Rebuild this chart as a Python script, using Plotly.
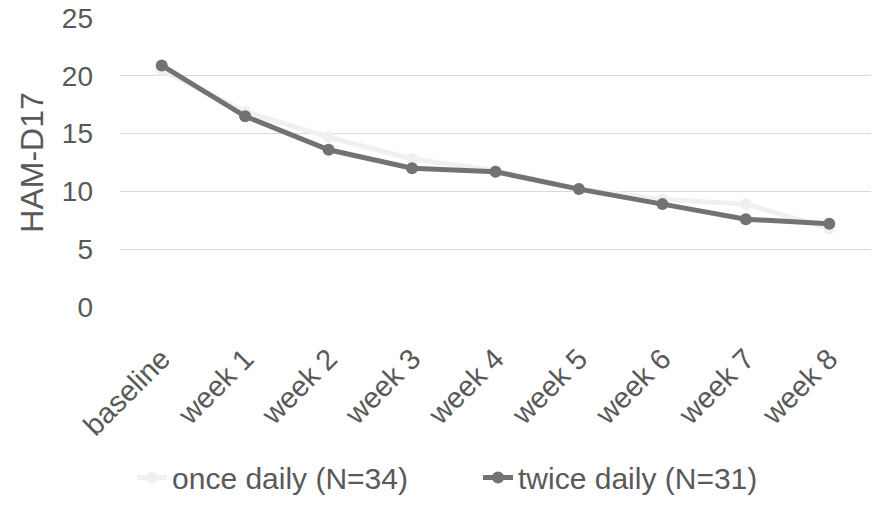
import plotly.graph_objects as go

# HAM-D17 scores by visit for each dosing schedule
visits = ["baseline", "week 1", "week 2", "week 3", "week 4", "week 5", "week 6", "week 7", "week 8"]
once_daily = [20.5, 16.9, 14.7, 12.8, 11.8, 10.2, 9.3, 8.9, 6.8]
twice_daily = [20.9, 16.5, 13.6, 12.0, 11.7, 10.2, 8.9, 7.6, 7.2]

font_family = "Liberation Sans, Arial, sans-serif"
text_color = "#595959"

fig = go.Figure()
fig.add_trace(go.Scatter(
    x=visits, y=once_daily, name="once daily (N=34)",
    mode="lines+markers",
    line=dict(color="#f0f0f0", width=5),
    marker=dict(color="#f0f0f0", size=12),
))
fig.add_trace(go.Scatter(
    x=visits, y=twice_daily, name="twice daily (N=31)",
    mode="lines+markers",
    line=dict(color="#727272", width=5),
    marker=dict(color="#727272", size=12),
))

fig.update_layout(
    width=873, height=505,
    margin=dict(l=120, r=2, t=18, b=192),
    paper_bgcolor="white", plot_bgcolor="white",
    font=dict(family=font_family, color=text_color, size=28),
    showlegend=True,
    legend=dict(orientation="h", x=0.016, xanchor="left", y=-0.59, yanchor="middle",
                font=dict(size=30, color=text_color), traceorder="normal",
                entrywidth=301, entrywidthmode="pixels", itemwidth=30),
    xaxis=dict(
        type="category", tickangle=-45, showgrid=False, zeroline=False,
        showline=False, ticks="", ticklabelstandoff=28,
        tickfont=dict(size=29, color=text_color),
        range=[-0.5, 8.5],
    ),
    yaxis=dict(
        range=[0, 25], dtick=5, showgrid=True, gridcolor="#d9d9d9", gridwidth=1.3,
        zeroline=False, showline=False, ticks="", ticklabelstandoff=26,
        tickfont=dict(size=28, color=text_color),
        title=dict(text="HAM-D17", font=dict(size=32, color=text_color), standoff=8),
    ),
)

fig.write_html("out.html")
